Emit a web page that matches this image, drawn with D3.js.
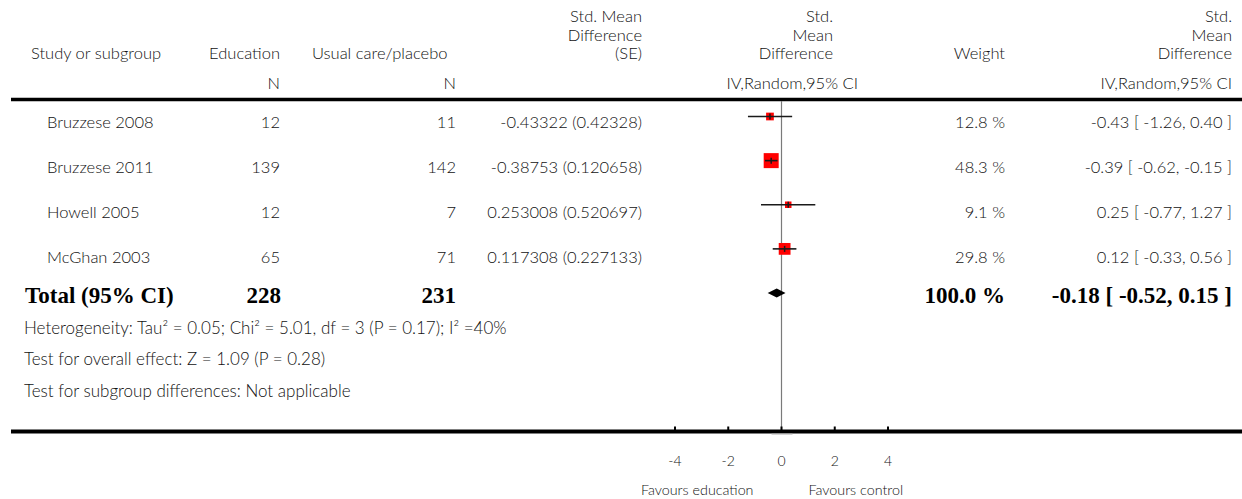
<!DOCTYPE html>
<html>
<head>
<meta charset="utf-8">
<script src="https://cdn.jsdelivr.net/npm/d3@7"></script>
<style>
  html, body { margin: 0; padding: 0; background: #fff; }
  svg { display: block; }
  .sans { font-family: "Lato", "Open Sans", sans-serif; font-weight: 300; fill: #111; }
  .serifb { font-family: "Liberation Serif", "DejaVu Serif", serif; font-weight: 700; fill: #000; }
</style>
</head>
<body>
<svg id="chart" width="1242" height="499"></svg>
<script>
// Forest plot: education vs usual care/placebo, standardised mean difference
const studies    = ["Bruzzese 2008", "Bruzzese 2011", "Howell 2005", "McGhan 2003"];
const nEducation = [12, 139, 12, 65];
const nControl   = [11, 142, 7, 71];
const smd        = [-0.43322, -0.38753, 0.253008, 0.117308];
const seVals     = [0.42328, 0.120658, 0.520697, 0.227133];
const weights    = [12.8, 48.3, 9.1, 29.8];
const ciLow      = [-1.26, -0.62, -0.77, -0.33];
const ciHigh     = [0.40, -0.15, 1.27, 0.56];

const totalN      = [228, 231];
const totalEst    = [-0.18, -0.52, 0.15];   // estimate, lower, upper
const totalWeight = 100.0;

const axisTicks   = [-4, -2, 0, 2, 4];
const footerLines = [
  "Heterogeneity: Tau\u00b2 = 0.05; Chi\u00b2 = 5.01, df = 3 (P = 0.17); I\u00b2 =40%",
  "Test for overall effect: Z = 1.09 (P = 0.28)",
  "Test for subgroup differences: Not applicable"
];
const favourLabels = ["Favours education", "Favours control"];

const svg = d3.select("#chart");
const W = 1242;

// scales
const x = d3.scaleLinear().domain([-4, 4]).range([675, 888]);
const textY = d3.scaleLinear().domain([0, 3]).range([122, 257]);   // study text rows
const markY = d3.scaleLinear().domain([0, 4]).range([116.5, 293]); // plotted marks (incl. total)
const footY = d3.scaleLinear().domain([0, 2]).range([327, 390]);
const side  = d3.scaleSqrt().domain([0, 48.3]).range([0, 15]);

const fmt2 = v => v.toFixed(2);
const ciText = (e, l, h) => `${fmt2(e)} [ ${fmt2(l)}, ${fmt2(h)} ]`;

function txt(g, str, xx, yy, anchor, cls, size) {
  return g.append("text")
    .attr("class", cls)
    .attr("x", xx).attr("y", yy)
    .attr("text-anchor", anchor)
    .attr("dominant-baseline", "central")
    .style("font-size", size + "px")
    .text(str);
}

const F = 16.5;

// ---- header ----
const hdr = svg.append("g");
const hBase = 53, hLine = 18.5;
txt(hdr, "Study or subgroup", 31, hBase, "start", "sans", F);
txt(hdr, "Education", 280, hBase, "end", "sans", F);
txt(hdr, "Usual care/placebo", 312, hBase, "start", "sans", F);
["Std. Mean", "Difference", "(SE)"].forEach((s, i) =>
  txt(hdr, s, 642, hBase - (2 - i) * hLine, "end", "sans", F));
["Std.", "Mean", "Difference"].forEach((s, i) =>
  txt(hdr, s, 833, hBase - (2 - i) * hLine, "end", "sans", F));
txt(hdr, "Weight", 1005, hBase, "end", "sans", F);
["Std.", "Mean", "Difference"].forEach((s, i) =>
  txt(hdr, s, 1232, hBase - (2 - i) * hLine, "end", "sans", F));
txt(hdr, "N", 280, 83, "end", "sans", F);
txt(hdr, "N", 456, 83, "end", "sans", F);
txt(hdr, "IV,Random,95% CI", 858, 83, "end", "sans", F);
txt(hdr, "IV,Random,95% CI", 1232, 83, "end", "sans", F);

// top rule
svg.append("line").attr("x1", 11).attr("x2", W).attr("y1", 99.5).attr("y2", 99.5)
  .attr("stroke", "#000").attr("stroke-width", 3.5);

// line of no effect
svg.append("line").attr("x1", x(0)).attr("x2", x(0)).attr("y1", 101).attr("y2", 430)
  .attr("stroke", "#7a7a7a").attr("stroke-width", 1.2);

// ---- study rows ----
const rows = svg.append("g");
studies.forEach((name, i) => {
  const y = textY(i);
  txt(rows, name, 47, y, "start", "sans", F);
  txt(rows, nEducation[i], 280, y, "end", "sans", F);
  txt(rows, nControl[i], 456, y, "end", "sans", F);
  txt(rows, `${smd[i]} (${seVals[i]})`, 642, y, "end", "sans", F);
  txt(rows, `${weights[i].toFixed(1)} %`, 1005, y, "end", "sans", F);
  txt(rows, ciText(smd[i], ciLow[i], ciHigh[i]), 1232, y, "end", "sans", F);

  const my = markY(i);
  const s = side(weights[i]);
  rows.append("rect")
    .attr("x", x(smd[i]) - s / 2).attr("y", my - s / 2)
    .attr("width", s).attr("height", s)
    .attr("fill", "#ff0000");
  rows.append("line")
    .attr("x1", x(ciLow[i])).attr("x2", x(ciHigh[i]))
    .attr("y1", my).attr("y2", my)
    .attr("stroke", "#1a1a1a").attr("stroke-width", 1.6);
  rows.append("line")
    .attr("x1", x(smd[i])).attr("x2", x(smd[i]))
    .attr("y1", my - 3).attr("y2", my + 3)
    .attr("stroke", "#1a1a1a").attr("stroke-width", 1.5);
});

// ---- total row ----
const ty = 295;
const tSize = 23;
txt(rows, "Total (95% CI)", 25, ty, "start", "serifb", tSize);
txt(rows, totalN[0], 281, ty, "end", "serifb", tSize);
txt(rows, totalN[1], 456, ty, "end", "serifb", tSize);
txt(rows, `${totalWeight.toFixed(1)} %`, 1005, ty, "end", "serifb", tSize);
txt(rows, ciText(totalEst[0], totalEst[1], totalEst[2]), 1232, ty, "end", "serifb", tSize);
const dy = markY(4);
rows.append("path")
  .attr("d", d3.line()([
    [x(totalEst[1]), dy], [x(totalEst[0]), dy - 4.5],
    [x(totalEst[2]), dy], [x(totalEst[0]), dy + 4.5]
  ]) + "Z")
  .attr("fill", "#000");

// ---- footer notes ----
footerLines.forEach((s, i) => txt(rows, s, 24, footY(i), "start", "sans", 17));

// ---- axis ----
const ax = svg.append("g");
ax.append("line").attr("x1", 11).attr("x2", W).attr("y1", 431.5).attr("y2", 431.5)
  .attr("stroke", "#000").attr("stroke-width", 4);
ax.append("line").attr("x1", x(0) - 10).attr("x2", x(0) + 11).attr("y1", 434).attr("y2", 434)
  .attr("stroke", "#aaa").attr("stroke-width", 1);
ax.selectAll(".tk").data(axisTicks).enter().append("line")
  .attr("x1", d => x(d)).attr("x2", d => x(d))
  .attr("y1", 426.5).attr("y2", 431)
  .attr("stroke", "#000").attr("stroke-width", 2);
axisTicks.forEach(t => txt(ax, String(t), x(t), 460, "middle", "sans", 14));
txt(ax, favourLabels[0], x(0) - 28, 489, "end", "sans", 14.3);
txt(ax, favourLabels[1], x(0) + 27, 489, "start", "sans", 14.3);
</script>
</body>
</html>
